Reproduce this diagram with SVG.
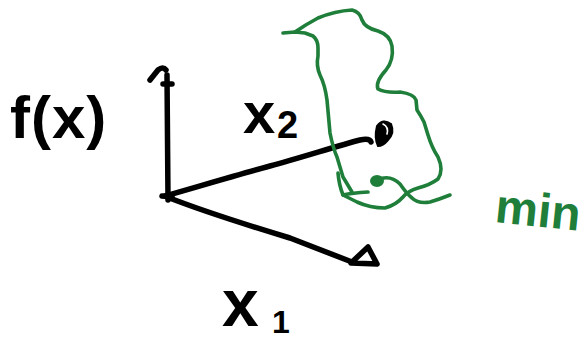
<svg xmlns="http://www.w3.org/2000/svg" width="584" height="342" viewBox="0 0 584 342">
<style>
.ink{fill:none;stroke:#000;stroke-width:5.5;stroke-linecap:round;stroke-linejoin:round}
.green{fill:none;stroke:#1f7f3a;stroke-width:3.6;stroke-linecap:round;stroke-linejoin:round}
.lbl{font-family:"Liberation Sans","DejaVu Sans",sans-serif;fill:#000;font-weight:bold}
.glbl{font-family:"Liberation Sans","DejaVu Sans",sans-serif;fill:#1f7f3a}
</style>
<rect width="584" height="342" fill="#fff"/>
<g id="connectors">
  <path class="ink" d="M168,200 L167,75"/>
  <path class="ink" stroke-width="7" d="M150,80 L158,70 Q163,66 166,70 M163,84 L172,84"/>
  <path class="ink" d="M162,196 L172,197"/>
  <path class="ink" d="M165,196 C200,186 240,174 270,166 C300,158 337,146 360,140 Q370,138 371,142"/>
  <path d="M377,126 Q383,118 391,124 Q395,133 388,140 Q383,146 378,146 Q374,138 377,126 Z" fill="#000" stroke="#000" stroke-width="2"/>
  <path d="M383,124 Q389,127 387,134" fill="none" stroke="#fff" stroke-width="1.6" stroke-linecap="round"/>
  <path class="ink" d="M167,197 C200,210 237,222 290,238 L352,262"/>
  <polygon class="ink" points="351,263 368,247 377,264" fill="#fff"/>
</g>
<g id="surface">
  <path class="green" d="M283,33 L295,32 L305,33 L313,36 Q318,40 318,48 L318,56 Q316,66 320,75 Q325,85 327,100 L330,133 Q333,148 337,157 L343,177 L352,192"/>
  <path class="green" d="M295,32 Q305,25 318,18 Q335,11 352,10 Q360,12 362,20 Q365,28 378,31 Q390,35 392,46 Q394,60 386,70 Q375,82 378,89 Q385,93 400,92 Q414,94 416,100 L417,110 Q421,116 424,122 L428,135 Q432,148 438,157 Q444,170 438,179 Q430,185 418,188 Q408,191 403,197 Q396,205 385,208 Q370,208 357,202 L343,195"/>
  <path class="green" d="M338,173 Q339,185 343,195 Q352,193 368,192"/>
  <path class="green" d="M377,180 Q390,174 400,184 Q407,194 412,198 Q418,204 430,202 Q440,199 450,195"/>
  <ellipse cx="377" cy="181" rx="7" ry="6" fill="#1f7f3a"/>
</g>
<g id="label-fx"><text class="lbl" x="10" y="138" font-size="60" letter-spacing="1">f(x)</text></g>
<g id="label-x2"><text class="lbl" x="243" y="133" font-size="58">x</text><text class="lbl" x="277" y="138" font-size="38">2</text></g>
<g id="label-x1"><text class="lbl" x="222" y="326" font-size="66">x</text><text class="lbl" x="272" y="333" font-size="32">1</text></g>
<g id="label-min"><text class="glbl" x="494" y="222" font-size="48" font-weight="bold" transform="rotate(6 494 222)">min</text></g>
</svg>
